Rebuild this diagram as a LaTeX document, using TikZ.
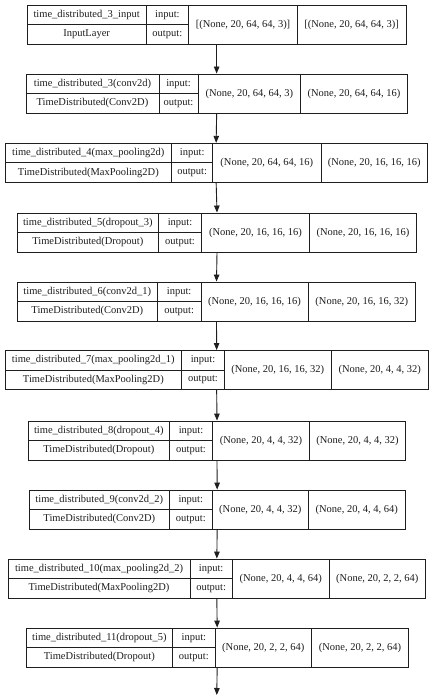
\documentclass[tikz,border=0pt]{standalone}
\usepackage{fontspec}
\setmainfont{Liberation Serif}
\usetikzlibrary{arrows.meta}
\definecolor{ink}{RGB}{30,30,30}
\tikzset{
  frame/.style={draw=ink, line width=0.9bp, inner sep=0pt, fill=white},
  sep/.style={draw=ink, line width=0.9bp},
  txt/.style={inner sep=0pt, text=ink, font=\fontsize{10.5bp}{12bp}\selectfont},
  arr/.style={draw=ink, line width=0.9bp, -{Triangle[length=7bp,width=5.5bp]}}
}
\newcommand\klayer[9]{\def\kid{#1}\def\ky{#2}\def\xa{#3}\def\xb{#4}\def\xc{#5}\def\xd{#6}\def\xe{#7}\def\knm{#8}\def\kty{#9}\klayerfinish}
\newcommand\klayerfinish[2]{%
  \pgfmathsetmacro\kw{\xe-\xa}%
  \pgfmathsetmacro\kcx{(\xa+\xe)/2}%
  \pgfmathsetmacro\kcy{\ky+19.5}%
  \pgfmathsetmacro\kyb{\ky+39}%
  \pgfmathsetmacro\kyt{\ky+9.75}%
  \pgfmathsetmacro\kyu{\ky+29.25}%
  \node[frame, minimum width=\kw bp, minimum height=39bp] (\kid) at (\kcx,\kcy) {};
  \draw[sep] (\xb,\ky) -- (\xb,\kyb) (\xc,\ky) -- (\xc,\kyb) (\xd,\ky) -- (\xd,\kyb);
  \draw[sep] (\xa,\kcy) -- (\xc,\kcy);
  \node[txt] (\kid-name) at ({(\xa+\xb)/2},\kyt) {\knm};
  \node[txt] (\kid-type) at ({(\xa+\xb)/2},\kyu) {\kty};
  \node[txt] (\kid-in) at ({(\xb+\xc)/2},\kyt) {input:};
  \node[txt] (\kid-out) at ({(\xb+\xc)/2},\kyu) {output:};
  \node[txt] (\kid-ish) at ({(\xc+\xd)/2},\kcy) {#1};
  \node[txt] (\kid-osh) at ({(\xd+\xe)/2},\kcy) {#2};
}
\begin{document}
\begin{tikzpicture}[x=1bp, y=-1bp]
\useasboundingbox[fill=white] (0,0) rectangle (435,695);
\klayer{L1}{5}{27.3}{146}{188.7}{297.3}{406}{time\_distributed\_3\_input}{InputLayer}{[(None, 20, 64, 64, 3)]}{[(None, 20, 64, 64, 3)]}
\klayer{L2}{74}{26}{159}{198}{300.7}{407.3}{time\_distributed\_3(conv2d)}{TimeDistributed(Conv2D)}{(None, 20, 64, 64, 3)}{(None, 20, 64, 64, 16)}
\klayer{L3}{143.3}{5}{171.7}{212.7}{321}{427.3}{time\_distributed\_4(max\_pooling2d)}{TimeDistributed(MaxPooling2D)}{(None, 20, 64, 64, 16)}{(None, 20, 16, 16, 16)}
\klayer{L4}{213}{17.3}{158.3}{201.7}{309.3}{416.7}{time\_distributed\_5(dropout\_3)}{TimeDistributed(Dropout)}{(None, 20, 16, 16, 16)}{(None, 20, 16, 16, 16)}
\klayer{L5}{282}{17.3}{157.3}{201}{308}{415.7}{time\_distributed\_6(conv2d\_1)}{TimeDistributed(Conv2D)}{(None, 20, 16, 16, 16)}{(None, 20, 16, 16, 32)}
\klayer{L6}{350.5}{5}{181.7}{224.3}{331}{428.3}{time\_distributed\_7(max\_pooling2d\_1)}{TimeDistributed(MaxPooling2D)}{(None, 20, 16, 16, 32)}{(None, 20, 4, 4, 32)}
\klayer{L7}{421}{28.3}{169.3}{212.7}{309.3}{405.7}{time\_distributed\_8(dropout\_4)}{TimeDistributed(Dropout)}{(None, 20, 4, 4, 32)}{(None, 20, 4, 4, 32)}
\klayer{L8}{490}{29.3}{169.3}{212.3}{308.3}{405}{time\_distributed\_9(conv2d\_2)}{TimeDistributed(Conv2D)}{(None, 20, 4, 4, 32)}{(None, 20, 4, 4, 64)}
\klayer{L9}{559}{8}{190}{232.3}{329}{425.7}{time\_distributed\_10(max\_pooling2d\_2)}{TimeDistributed(MaxPooling2D)}{(None, 20, 4, 4, 64)}{(None, 20, 2, 2, 64)}
\klayer{L10}{628}{26}{172.7}{215}{311.7}{408.3}{time\_distributed\_11(dropout\_5)}{TimeDistributed(Dropout)}{(None, 20, 2, 2, 64)}{(None, 20, 2, 2, 64)}
\coordinate (end) at (216.8,695);
\draw[arr] (L1.south) -- (L2.north);
\draw[arr] (L2.south) -- (L3.north);
\draw[arr] (L3.south) -- (L4.north);
\draw[arr] (L4.south) -- (L5.north);
\draw[arr] (L5.south) -- (L6.north);
\draw[arr] (L6.south) -- (L7.north);
\draw[arr] (L7.south) -- (L8.north);
\draw[arr] (L8.south) -- (L9.north);
\draw[arr] (L9.south) -- (L10.north);
\draw[arr] (L10.south) -- (end);
\end{tikzpicture}
\end{document}
